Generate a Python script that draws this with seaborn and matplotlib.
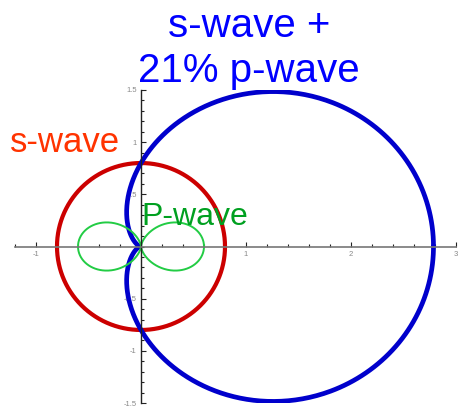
import numpy as np
import pandas as pd
import matplotlib
matplotlib.use("Agg")
import matplotlib.pyplot as plt
from matplotlib.ticker import MultipleLocator
import seaborn as sns

# Angular probability distributions r(theta) drawn as polar curves
S_RADIUS = 0.8          # |s|^2 : isotropic s-wave
P_LOBE = 0.6            # |p|^2 : p-wave lobe length along the axis
MIX_LABEL = ["s-wave +", "21% p-wave"]

X_RANGE = [-1.2, 3.0]
Y_RANGE = [-1.5, 1.5]
X_TICKS = [-1, 1, 2, 3]
Y_TICKS = [-1.5, -1, -0.5, 0.5, 1, 1.5]
Y_TICK_LABELS = ["-1.5", "-1", "-0.5", "0.5", "1", "1.5"]

theta = np.linspace(0, 2 * np.pi, 721)
s_amp = np.sqrt(S_RADIUS)
p_amp = np.sqrt(P_LOBE)

curves = {
    "s": np.full_like(theta, S_RADIUS),
    "p": (p_amp * np.cos(theta)) ** 2,
    "mix": (s_amp + p_amp * np.cos(theta)) ** 2,
}
frames = {k: pd.DataFrame({"x": r * np.cos(theta), "y": r * np.sin(theta)})
          for k, r in curves.items()}

sns.set_style("white")
plt.rcParams["font.family"] = ["Liberation Sans", "DejaVu Sans"]

fig = plt.figure(figsize=(4.58, 4.12), dpi=100)
ax = fig.add_axes([15 / 458, 9 / 412, 441 / 458, 313 / 412])

sns.lineplot(data=frames["s"], x="x", y="y", sort=False, ax=ax,
             color="#cc0000", linewidth=3.0, estimator=None)
sns.lineplot(data=frames["mix"], x="x", y="y", sort=False, ax=ax,
             color="#0000cc", linewidth=3.4, estimator=None)
sns.lineplot(data=frames["p"], x="x", y="y", sort=False, ax=ax,
             color="#22cc44", linewidth=1.4, estimator=None)

ax.set_xlim(*X_RANGE)
ax.set_ylim(*Y_RANGE)
ax.set_xlabel("")
ax.set_ylabel("")

# Axes crossing at the origin
for side in ("top", "right"):
    ax.spines[side].set_visible(False)
ax.spines["left"].set_position(("data", 0))
ax.spines["bottom"].set_position(("data", 0))
ax.spines["left"].set_color("#222222")
ax.spines["bottom"].set_color("#777777")
ax.spines["left"].set_linewidth(1.0)
ax.spines["bottom"].set_linewidth(1.2)

ax.set_xticks(X_TICKS)
ax.set_xticklabels([str(t) for t in X_TICKS])
ax.set_yticks(Y_TICKS)
ax.set_yticklabels(Y_TICK_LABELS)
ax.xaxis.set_minor_locator(MultipleLocator(0.2))
ax.yaxis.set_minor_locator(MultipleLocator(0.1))
ax.tick_params(which="both", direction="in", bottom=True, left=True,
               colors="#222222", labelcolor="#888888", labelsize=5.5, pad=3)
ax.tick_params(which="major", length=3.5, width=0.8)
ax.tick_params(which="minor", length=2.5, width=0.8)
ax.set_facecolor("none")

# Labels
fig.text(249 / 458, 1 - 37 / 412, MIX_LABEL[0], color="#0000ff",
         fontsize=29, ha="center", va="baseline")
fig.text(249 / 458, 1 - 82 / 412, MIX_LABEL[1], color="#0000ff",
         fontsize=29, ha="center", va="baseline")
fig.text(10 / 458, 1 - 152 / 412, "s-wave", color="#ff3300",
         fontsize=25, ha="left", va="baseline")
fig.text(141 / 458, 1 - 225 / 412, "P-wave", color="#00a020",
         fontsize=23, ha="left", va="baseline")

fig.savefig("out.png", dpi=100, facecolor="white")
